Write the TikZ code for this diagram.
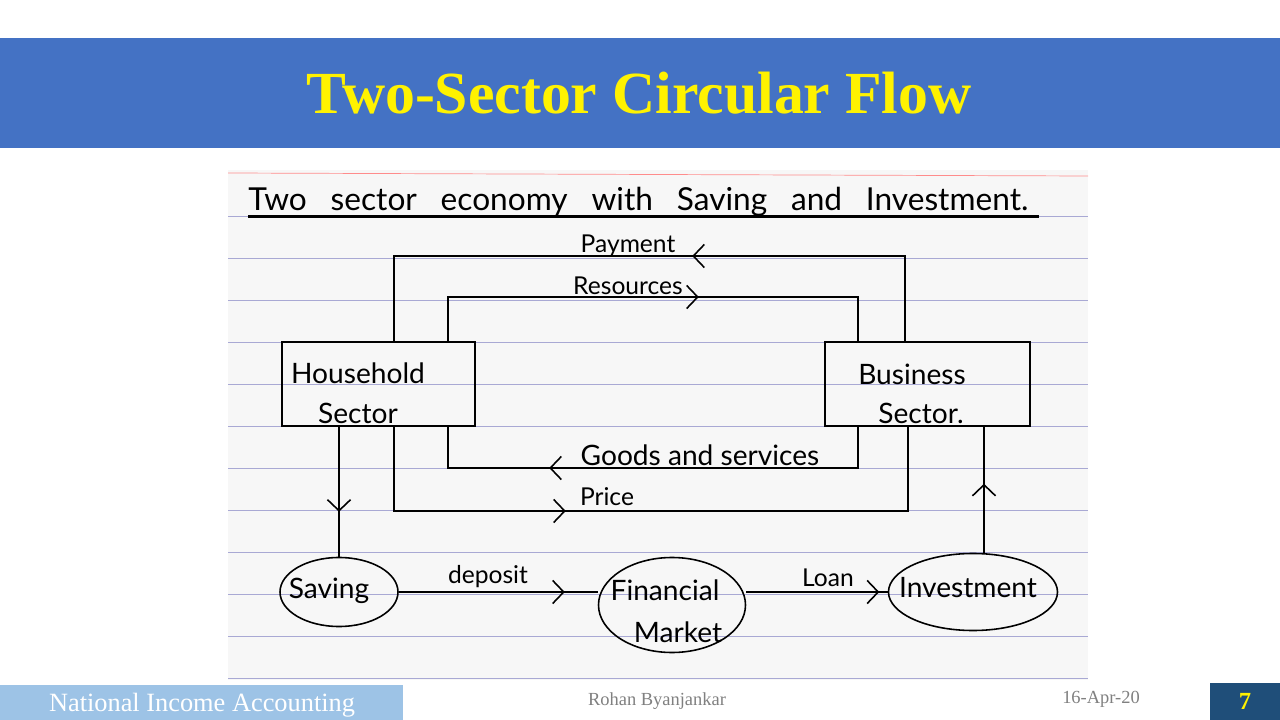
\documentclass[tikz,border=0pt]{standalone}
\usepackage{fontspec}
\setmainfont{Liberation Serif}
\newfontfamily\handfont{Lato}
\usepackage{tikz}
\usetikzlibrary{arrows.meta, positioning, shapes.geometric, decorations.markings}
\definecolor{bandblue}{HTML}{4472C4}
\definecolor{footlight}{HTML}{9DC3E6}
\definecolor{footdark}{HTML}{1F4E79}
\definecolor{ruleline}{HTML}{A9A9D4}
\definecolor{paper}{HTML}{F7F7F7}

\begin{document}
\begin{tikzpicture}[x=0.2mm, y=-0.2mm]

\tikzset{sector/.style = {draw, line width=0.9pt, inner sep=0pt}}
\tikzset{pool/.style = {shape=ellipse, draw, line width=0.9pt, inner sep=0pt}}
\tikzset{boxtext/.style = {font=\handfont\fontsize{16}{18}\selectfont, inner sep=0pt}}
\tikzset{flowlabel/.style = {font=\handfont\fontsize{14}{16}\selectfont, inner sep=1pt}}
\tikzset{flow/.style = {line width=0.9pt}}
\tikzset{midarrow/.style = {postaction={decorate}, decoration={markings, mark=at position #1 with {\arrow{>}}}}}
\tikzset{>={Straight Barb[length=2.2mm, width=4.6mm]}}

\useasboundingbox (0,0) rectangle (1280,720);
% slide
\fill[white] (0,0) rectangle (1280,720);
\fill[bandblue] (0,38) rectangle (1280,148);
\node[text=yellow, font=\bfseries\fontsize{34}{36}\selectfont] (title) at (639,93) {Two-Sector Circular Flow};
\fill[footlight] (0,685) rectangle (403,720);
\node[text=white, font=\fontsize{15}{18}\selectfont] (course) at (202,705) {National Income Accounting};
\node[text=gray, font=\fontsize{10.5}{12}\selectfont] (author) at (657,701) {Rohan Byanjankar};
\node[text=gray, font=\fontsize{10.5}{12}\selectfont] (date) at (1101,699) {16-Apr-20};
\fill[footdark] (1210,683) rectangle (1280,720);
\node[text=yellow, font=\bfseries\fontsize{14}{15}\selectfont] (page) at (1245,701) {7};

% paper
\fill[paper] (228,170) rectangle (1088,680);
\draw[red!45] (228,173) -- (1088,176);
\foreach \y in {216,258,...,680}
  \draw[ruleline] (228,\y) -- (1088,\y);

\node[anchor=base west, inner sep=0pt, font=\handfont\fontsize{18}{20}\selectfont] (head) at (248,211)
  {\makebox[15.6cm][s]{Two sector economy with Saving and Investment.}};
\draw[line width=1.5pt] ([yshift=-3pt]head.base west) -- ([xshift=0.2cm, yshift=-3pt]head.base east);

% vertices
\node[sector, minimum width=3.86cm, minimum height=1.68cm] (hh) at (378.5,384) {};
\node[sector, minimum width=4.1cm, minimum height=1.68cm] (bs) at (927.5,384) {};
\node[pool, minimum width=2.36cm, minimum height=1.38cm] (sv) at (339,592) {};
\node[pool, minimum width=2.94cm, minimum height=1.9cm] (fm) at (672,605) {};
\node[pool, minimum width=3.38cm, minimum height=1.54cm] (inv) at (973,592) {};

\node[boxtext] (hh1) at (358,373) {Household};
\node[boxtext] (hh2) at (358,413) {Sector};
\node[boxtext] (bs1) at (912,374) {Business};
\node[boxtext] (bs2) at (921,413) {Sector.};
\node[boxtext, anchor=base] (sv1) at (329,598) {Saving};
\node[boxtext, anchor=base] (fm1) at (665,600) {Financial};
\node[boxtext, anchor=base] (fm2) at (678,642) {Market};
\node[boxtext, anchor=base] (inv1) at (968,597) {Investment};

\coordinate (payL) at (394,256);
\coordinate (payR) at (905,256);
\coordinate (resL) at (448,297);
\coordinate (resR) at (858,297);
\coordinate (gdsL) at (448,468);
\coordinate (gdsR) at (858,468);
\coordinate (prcL) at (394,511);
\coordinate (prcR) at (908,511);
\coordinate (bsIn) at (984,426);

%edges
\draw[flow, midarrow=5.96cm] (bs.north -| payR) -- (payR) -- (payL) -- (hh.north -| payL);
\draw[flow, midarrow=5.9cm] (hh.north -| resL) -- (resL) -- (resR) -- (bs.north -| resR);
\draw[flow, midarrow=7.0cm] (bs.south -| gdsR) -- (gdsR) -- (gdsL) -- (hh.south -| gdsL);
\draw[flow, midarrow=5.12cm] (hh.south -| prcL) -- (prcL) -- (prcR) -- (bs.south -| prcR);
\draw[flow, midarrow=1.7cm] (hh.south -| sv.north) -- (sv.north);
\draw[flow, midarrow=1.38cm] (inv.north -| bsIn) -- (bsIn);
\draw[flow, midarrow=3.32cm] (sv.east) -- (fm.west |- sv.east);
\draw[flow, midarrow=2.66cm] (fm.east |- inv.west) -- (inv.west);

% labels
\node[flowlabel] (payment) at (628,246) {Payment};
\node[flowlabel] (resources) at (628,286) {Resources};
\node[flowlabel, font=\handfont\fontsize{16}{18}\selectfont] (goods) at (700,455) {Goods and services};
\node[flowlabel] (price) at (607,497) {Price};
\node[flowlabel] (deposit) at (488,577) {deposit};
\node[flowlabel] (loan) at (828,578) {Loan};
\end{tikzpicture}
\end{document}
